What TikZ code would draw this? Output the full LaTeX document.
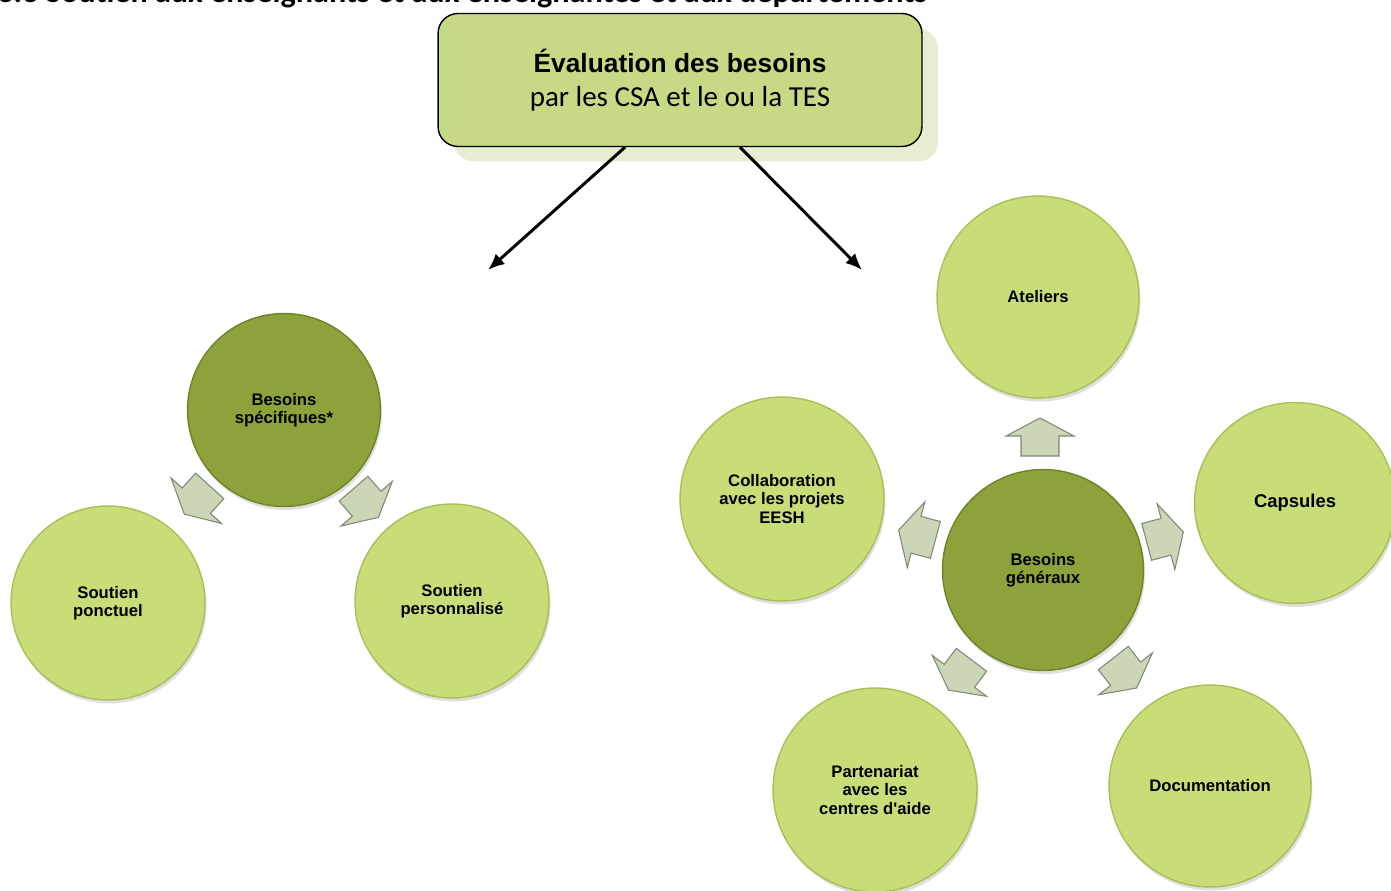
\documentclass[tikz,border=0pt]{standalone}
\usepackage{fontspec}
\setmainfont{Liberation Sans}
\newfontfamily\calibri{Carlito}
\usetikzlibrary{arrows.meta,shadows}
\definecolor{lightleaf}{HTML}{C8DC78}
\definecolor{darkleaf}{HTML}{8DA23A}
\definecolor{lightrim}{HTML}{A9BF57}
\definecolor{darkrim}{HTML}{6F8428}
\definecolor{boxfill}{HTML}{C6D985}
\definecolor{boxshade}{HTML}{E6EDD2}
\definecolor{arrowfill}{HTML}{CAD6B6}
\definecolor{arrowedge}{HTML}{7E8874}
\tikzset{
  leaf/.style={circle, fill=lightleaf, draw=lightrim, line width=0.8pt, align=center,
    font=\fontsize{9.5}{10.5}\selectfont\bfseries,
    drop shadow={shadow xshift=0.03cm, shadow yshift=-0.07cm, opacity=0.25, fill=black!50}},
  darkleaf/.style={leaf, fill=darkleaf, draw=darkrim},
  evalbox/.style={rounded corners=0.4cm, fill=boxfill, draw=black, line width=0.8pt,
    minimum width=9.68cm, minimum height=2.66cm, align=center,
    drop shadow={shadow xshift=0.32cm, shadow yshift=-0.3cm, opacity=1, fill=boxshade}},
  flowarrow/.style={line width=1.7pt, -{Latex[length=0.33cm,width=0.28cm]}},
  blockarrow/.style={fill=arrowfill, draw=arrowedge, line width=0.6pt, line join=miter}
}
% block arrow: (centre)(angle)
\def\blockarrow(#1)(#2){\begin{scope}[shift={(#1)},rotate=#2]
  \filldraw[blockarrow] (-19,-19) -- (1,-19) -- (1,-34) -- (19,0) -- (1,34) -- (1,19) -- (-19,19) -- cycle;
  \end{scope}}

\begin{document}
\begin{tikzpicture}[x=0.02cm,y=-0.02cm]
  %%%%% START %%%%%
  \useasboundingbox (0,0) rectangle (1391,891);

  % title, cut at the top of the page
  \node[anchor=base west, inner sep=0, font=\calibri\fontsize{18.3}{21}\selectfont\bfseries] (title) at (-3,3)
    {3.3 Soutien aux enseignants et aux enseignantes et aux départements};

  % top box
  \node[evalbox] (evaluation) at (680,80)
    {{\fontsize{15}{18}\selectfont\bfseries Évaluation des besoins}\\[7.5pt]
     {\calibri\fontsize{16.5}{19}\selectfont par les CSA et le ou la TES}};

  \coordinate (lefttip) at (488,270);
  \coordinate (righttip) at (862,270);
  \draw[flowarrow] ([xshift=-1.1cm]evaluation.south) -- (lefttip);
  \draw[flowarrow] ([xshift=1.2cm]evaluation.south) -- (righttip);

  % specific needs
  \node[darkleaf, minimum size=3.86cm] (specifiques) at (284,410) {Besoins\\spécifiques*};
  \node[leaf, minimum size=3.88cm] (ponctuel) at (108,603) {Soutien\\ponctuel};
  \node[leaf, minimum size=3.88cm] (personnalise) at (452,601) {Soutien\\personnalisé};

  \blockarrow(197,500)(228)
  \blockarrow(366,503)(-49)

  % general needs
  \node[darkleaf, minimum size=4.02cm] (generaux) at (1043,570) {Besoins\\généraux};
  \node[leaf, minimum size=4.04cm] (ateliers) at (1038,297) {Ateliers};
  \node[leaf, minimum size=4.08cm] (collaboration) at (782,499) {Collaboration\\avec les projets\\EESH};
  \node[leaf, minimum size=4.02cm, font=\fontsize{10.5}{12}\selectfont\bfseries] (capsules) at (1295,503) {Capsules};
  \node[leaf, minimum size=4.08cm] (partenariat) at (875,790) {Partenariat\\avec les\\centres d\textquotesingle aide};
  \node[leaf, minimum size=4.04cm] (documentation) at (1210,786) {Documentation};

  \blockarrow(1040,437)(90)
  \blockarrow(917,535)(165)
  \blockarrow(1165,537)(15)
  \blockarrow(960,675)(233)
  \blockarrow(1125,673)(-52)
  %%%%% END %%%%%
\end{tikzpicture}
\end{document}
